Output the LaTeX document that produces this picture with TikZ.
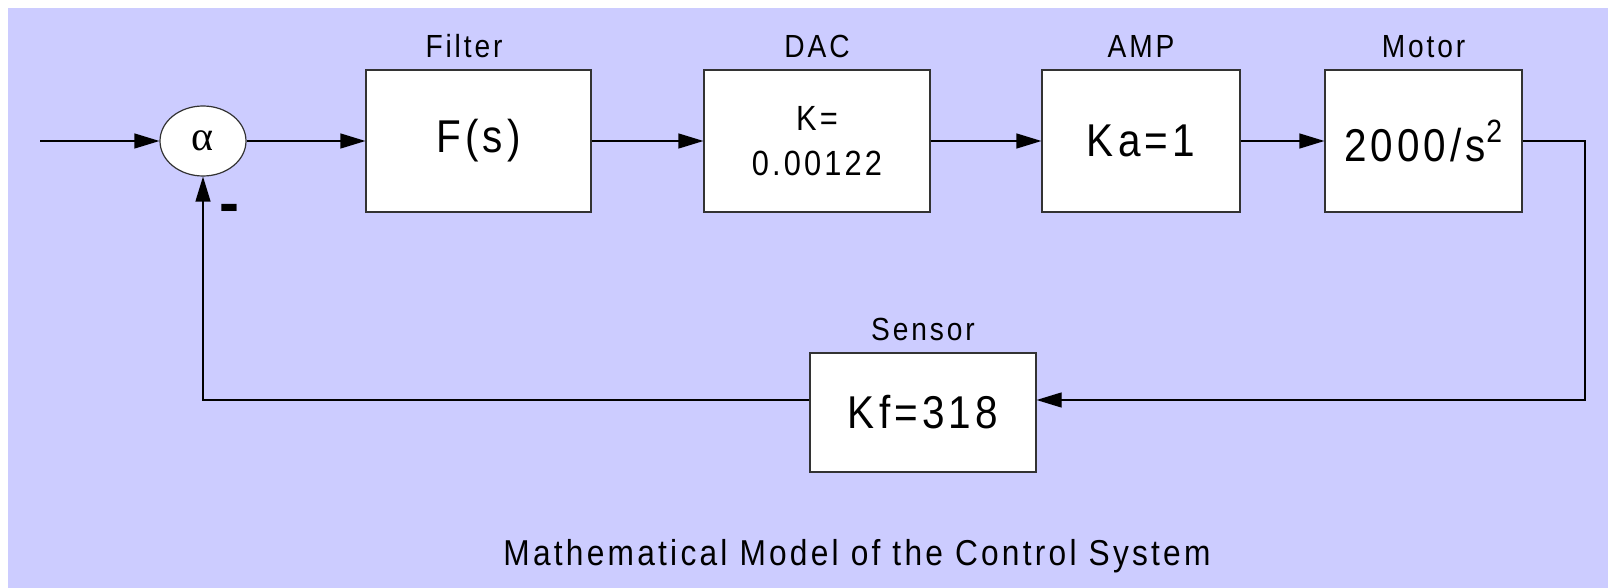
\documentclass[tikz,border=0pt]{standalone}
\usepackage{fontspec}
\setmainfont{Liberation Sans}
\newfontfamily\narrowsans[FakeStretch=0.88, LetterSpace=9]{Liberation Sans}
\newfontfamily\greekserif{Liberation Serif}
\usetikzlibrary{arrows.meta, shapes.geometric}
\definecolor{panel}{RGB}{204, 204, 255}
\definecolor{edge}{RGB}{51, 51, 51}

\begin{document}
\begin{tikzpicture}[x=0.5pt, y=-0.5pt,
    blk/.style   = {draw=edge, fill=white, line width=0.6pt, inner sep=0pt, minimum height=71pt, font=\narrowsans\fontsize{23}{27}\selectfont},
    dacblk/.style = {blk, align=center, font=\narrowsans\fontsize{17.5}{22.5}\selectfont},
    lbl/.style   = {anchor=base, inner sep=0pt, font=\narrowsans\fontsize{16}{19}\selectfont},
    ttl/.style   = {anchor=base, inner sep=0pt, font=\narrowsans\fontsize{18}{22}\selectfont},
    sumnode/.style = {ellipse, draw=edge, fill=white, line width=0.6pt, inner sep=0pt, minimum width=43pt, minimum height=35pt, font=\greekserif\fontsize{21}{24}\selectfont},
    arr/.style   = {line width=0.6pt, -{Triangle[length=12.5pt, width=7.5pt]}},
  ]
    % background panel
    \useasboundingbox (0,0) rectangle (1608,588);
    \fill[panel] (8,8) rectangle (1608,588);

    % --- nodes ---
    \coordinate (in) at (40, 141);
    \node[sumnode] (sum) at (203, 141) {α};
    \node[anchor=base, inner sep=0pt, font=\bfseries\fontsize{30}{30}\selectfont] (minus) at (229.5, 224) {-};

    % forward path
    \node[blk, minimum width=112.5pt] (filter) at (478.5, 141) {F(s)};
    \node[lbl] (filterlbl) at (464, 58) {Filter};

    \node[dacblk, minimum width=113pt] (dac) at (817, 141) {K=\\0.00122};
    \node[lbl] (daclbl) at (817, 58) {DAC};

    \node[blk, minimum width=99pt] (amp) at (1141, 141) {Ka=1};
    \node[lbl] (amplbl) at (1141, 58) {AMP};

    \node[blk, minimum width=98.5pt] (motor) at (1423.5, 141) {2000/s\textsuperscript{2}};
    \node[lbl] (motorlbl) at (1423.5, 58) {Motor};

    % feedback path
    \node[blk, minimum width=113pt, minimum height=59.5pt] (sensor) at (923, 412.5) {Kf=318};
    \node[lbl] (sensorlbl) at (923, 341) {Sensor};
    \coordinate (fbr) at (1585, 400);
    \coordinate (fbl) at (203, 400);

    \node[ttl] (title) at (857, 565) {Mathematical Model of the Control System};

    % --- connectors ---
    \draw[arr] (in) -- (sum);
    \draw[arr] (sum) -- (filter);
    \draw[arr] (filter) -- (dac);
    \draw[arr] (dac) -- (amp);
    \draw[arr] (amp) -- (motor);
    \draw[arr] (motor) -- (motor.east -| fbr) -- (fbr) -- (sensor.east |- fbr);
    \draw[arr] (sensor.west |- fbl) -- (fbl) -- (sum);

  \end{tikzpicture}
\end{document}
